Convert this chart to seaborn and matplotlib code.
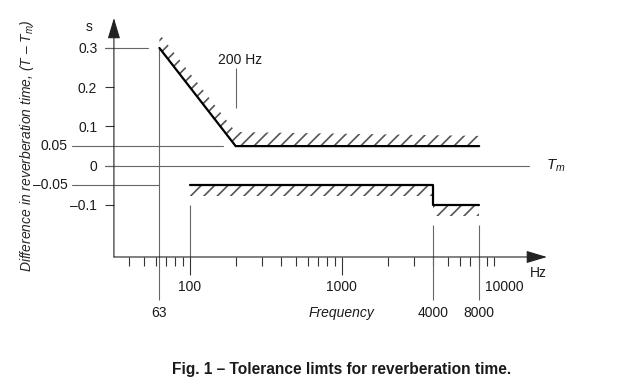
import numpy as np
import pandas as pd
import seaborn as sns
import matplotlib.pyplot as plt
from matplotlib.transforms import ScaledTranslation

#%% Data: tolerance limits, frequency in Hz, deviation (T - Tm) in s
upper_freq = [63, 200, 8000]
upper_dev = [0.30, 0.05, 0.05]
lower_freq = [100, 4000, 4000, 8000]
lower_dev = [-0.05, -0.05, -0.10, -0.10]

ref_levels = [0.05, -0.05]
ref_labels = ["0.05", "–0.05"]
knee_freq = 200
marked_freqs = [63, 4000, 8000]

ytick_vals = [0.3, 0.2, 0.1, 0, -0.1]
ytick_labels = ["0.3", "0.2", "0.1", "0", "–0.1"]
xtick_major = [100, 1000]
xtick_major_labels = ["100", "1000"]
xtick_minor = [40, 50, 60, 70, 80, 90,
               200, 300, 400, 500, 600, 700, 800, 900,
               2000, 3000, 4000, 5000, 6000, 7000, 8000, 9000, 10000]
xtick_minor_labels = [""] * 22 + ["10000"]

#%% Theme and fonts
sns.set_style("ticks")
plt.rcParams["font.family"] = "Liberation Sans"
plt.rcParams["mathtext.fontset"] = "custom"
plt.rcParams["mathtext.it"] = "Liberation Sans:italic"
plt.rcParams["mathtext.rm"] = "Liberation Sans"
plt.rcParams["hatch.linewidth"] = 1.5
plt.rcParams["text.color"] = "#1a1a1a"

grey = "#666666"
axis_col = "#333333"
fs = 12.5

fig = plt.figure(figsize=(8, 4.7875), dpi=80)
ax = fig.add_axes([0.178, 0.329, 0.6766, 0.624])
ax.set_xscale("log")

lx0, lx1 = 1.5, 4.349
ax.set_xlim(10 ** lx0, 10 ** lx1)
ax.set_ylim(-0.2325, 0.3764)

def frac(f):
    # axes fraction of a frequency on the log axis
    return (np.log10(f) - lx0) / (lx1 - lx0)

#%% Limit lines
up = pd.DataFrame({"freq": upper_freq, "dev": upper_dev})
low = pd.DataFrame({"freq": lower_freq, "dev": lower_dev})
sns.lineplot(data=up, x="freq", y="dev", color="black", lw=2,
             estimator=None, sort=False, ax=ax, zorder=5)
sns.lineplot(data=low, x="freq", y="dev", color="black", lw=2,
             estimator=None, sort=False, ax=ax, zorder=5)

# hatched bands on the outside of the limits (a bit deeper on the slope)
up_band = np.array([0.036, 0.036, 0.026])
ax.fill_between(up["freq"], up["dev"], up["dev"] + up_band, facecolor="none",
                edgecolor="#555555", hatch="//", lw=0)
ax.fill_between(low["freq"], low["dev"] - 0.027, low["dev"], facecolor="none",
                edgecolor="#555555", hatch="//", lw=0)

#%% Guide lines
ytf = ax.get_yaxis_transform()
ax.plot([-0.021, 0.079], [upper_dev[0]] * 2, transform=ytf, color=grey,
        lw=1, clip_on=False)
ax.plot([-0.021, 0.958], [0, 0], transform=ytf, color=grey, lw=1, clip_on=False)
ax.plot([-0.097, 0.252], [ref_levels[0]] * 2, transform=ytf, color=grey,
        lw=1, clip_on=False)
ax.plot([-0.097, frac(marked_freqs[0])], [ref_levels[1]] * 2, transform=ytf,
        color=grey, lw=1, clip_on=False)
for lev, lab in zip(ref_levels, ref_labels):
    ax.text(-0.107, lev, lab, transform=ytf, ha="right", va="center", fontsize=fs)

ax.vlines(marked_freqs[0], -0.342, upper_dev[0], color=grey, lw=1, clip_on=False)
ax.vlines(marked_freqs[1:], -0.342, -0.15, color=grey, lw=1, clip_on=False)
ax.vlines(lower_freq[0], lower_dev[-1], -0.2325, color=grey, lw=1, clip_on=False)
for f in marked_freqs:
    ax.text(f, -0.375, str(f), ha="center", va="center", fontsize=fs)

# 200 Hz knee marker
ax.vlines(knee_freq, 0.148, 0.249, color=grey, lw=1)
ax.text(213, 0.269, "200 Hz", ha="center", va="center", fontsize=fs)

#%% Axes with arrows
for s in ax.spines.values():
    s.set_visible(False)
arrow = dict(arrowstyle="-|>,head_length=0.8,head_width=0.24",
             mutation_scale=20, color="#222222", lw=1, shrinkA=0, shrinkB=0)
ax.annotate("", xy=(1, 0), xytext=(0, 0), xycoords="axes fraction",
            arrowprops=arrow, annotation_clip=False)
ax.annotate("", xy=(0, 1), xytext=(0, 0), xycoords="axes fraction",
            arrowprops=arrow, annotation_clip=False)

ax.set_yticks(ytick_vals, labels=ytick_labels)
ax.set_xticks(xtick_major, labels=xtick_major_labels)
ax.set_xticks(xtick_minor, labels=xtick_minor_labels, minor=True)
ax.tick_params(axis="x", which="major", length=16, width=1, pad=4.5,
               labelsize=fs, color=axis_col, labelcolor="#1a1a1a")
ax.tick_params(axis="x", which="minor", length=8, width=1, pad=12.5,
               labelsize=fs, color=axis_col, labelcolor="#1a1a1a")
ax.tick_params(axis="y", which="both", length=8, width=1, pad=7,
               labelsize=fs, color=axis_col, labelcolor="#1a1a1a")

# the 10000 label sits a little right of its tick
for lab in ax.get_xticklabels(minor=True):
    if lab.get_text() == "10000":
        lab.set_transform(lab.get_transform()
                          + ScaledTranslation(10 / 80, 0, fig.dpi_scale_trans))

#%% Text
ax.set_xlabel("")
ax.set_ylabel("Difference in reverberation time, (T – $T_m$)",
              fontsize=fs, style="italic")
ax.yaxis.set_label_coords(-0.18, 0.464)
ax.text(-0.058, 0.353, "s", transform=ytf, ha="center", va="center", fontsize=fs)
ax.text(0.981, -0.273, "Hz", transform=ytf, ha="center", va="center", fontsize=fs)
ax.text(1.021, 0, "$T_m$", transform=ytf, ha="center", va="center", fontsize=13.5)
ax.text(1000, -0.375, "Frequency", ha="center", va="center", fontsize=fs,
        style="italic")

fig.text(0.534, 0.034, "Fig. 1 – Tolerance limts for reverberation time.",
         ha="center", va="center", fontsize=14, fontweight="bold")

fig.savefig("out.png", dpi=80)
